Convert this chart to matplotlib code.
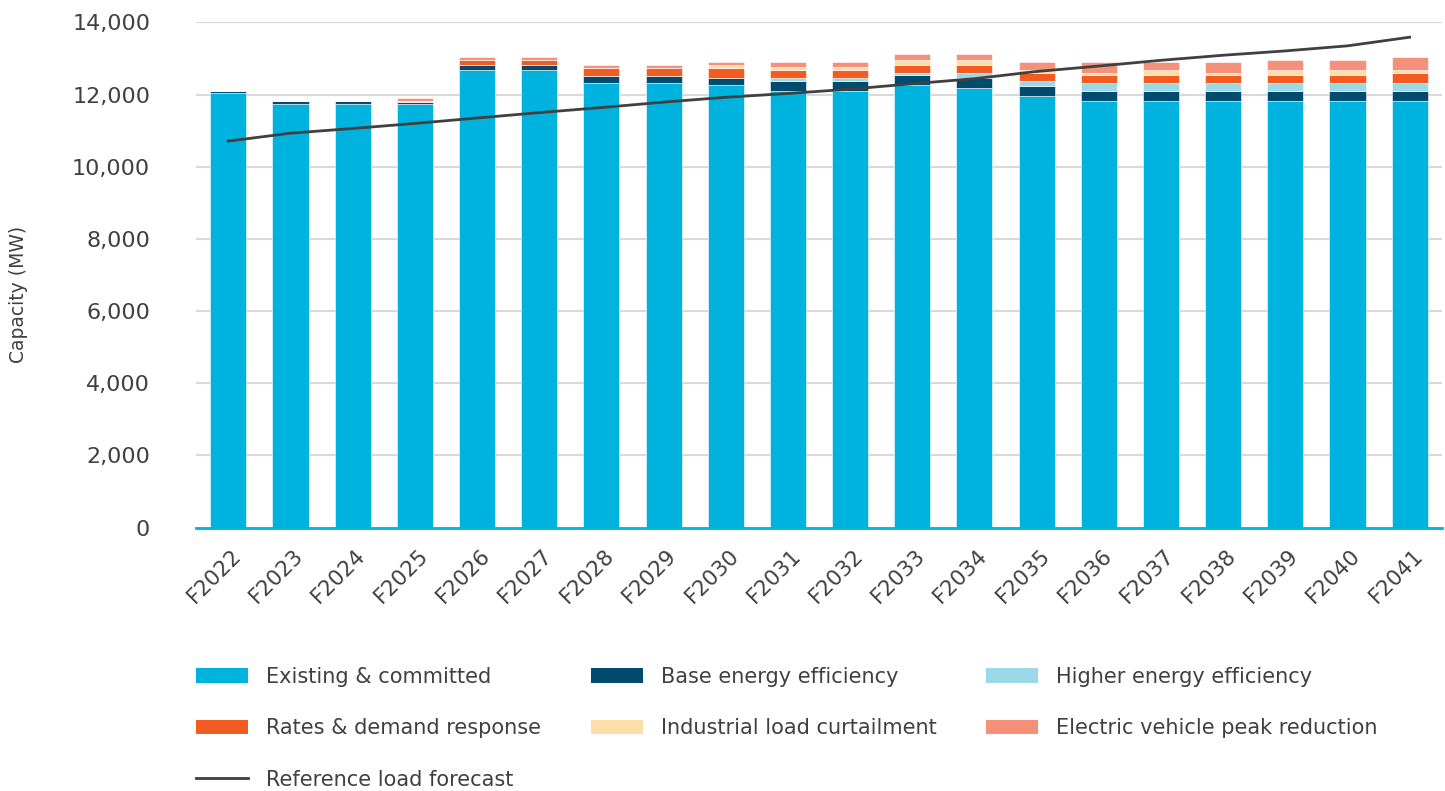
import matplotlib
matplotlib.use("Agg")
import matplotlib.pyplot as plt
from matplotlib.patches import Patch
from matplotlib.lines import Line2D
from matplotlib.transforms import ScaledTranslation
import numpy as np

years = ["F2022", "F2023", "F2024", "F2025", "F2026", "F2027", "F2028", "F2029",
         "F2030", "F2031", "F2032", "F2033", "F2034", "F2035", "F2036", "F2037",
         "F2038", "F2039", "F2040", "F2041"]

existing = [12050, 11750, 11750, 11750, 12680, 12680, 12320, 12320, 12260, 12100,
            12100, 12260, 12185, 11970, 11825, 11825, 11825, 11825, 11825, 11825]
base_ee = [60, 75, 75, 55, 140, 140, 205, 205, 200, 280,
           285, 275, 275, 275, 275, 275, 275, 275, 275, 275]
higher_ee = [0, 0, 0, 25, 0, 0, 0, 0, 0, 85,
             80, 75, 145, 140, 220, 220, 220, 220, 220, 220]
rates_dr = [0, 0, 0, 0, 140, 140, 215, 220, 275, 205,
            215, 215, 215, 220, 210, 210, 210, 210, 210, 285]
industrial = [0, 0, 0, 0, 0, 0, 0, 0, 75, 85,
              75, 145, 145, 65, 75, 145, 75, 145, 145, 75]
ev_peak = [0, 0, 0, 65, 80, 80, 85, 85, 90, 140,
           140, 150, 150, 230, 285, 215, 285, 285, 285, 365]
load_forecast = [10710, 10930, 11060, 11200, 11350, 11500, 11640, 11790, 11925, 12030,
                 12150, 12300, 12440, 12640, 12790, 12950, 13090, 13210, 13350, 13590]

series = [
    ("Existing & committed", existing, "#00B3DE"),
    ("Base energy efficiency", base_ee, "#004B6E"),
    ("Higher energy efficiency", higher_ee, "#9AD9E8"),
    ("Rates & demand response", rates_dr, "#F25C22"),
    ("Industrial load curtailment", industrial, "#FDDDA8"),
    ("Electric vehicle peak reduction", ev_peak, "#F5907A"),
]

TEXT = "#404040"
plt.rcParams["font.family"] = ["DejaVu Sans"]

fig = plt.figure(figsize=(14.45, 7.91), dpi=100)
ax = fig.add_axes([196 / 1445, 1 - 527.6 / 791, (1442 - 196) / 1445, (527.6 - 22.4) / 791])

x = np.arange(len(years))
bottom = np.zeros(len(years))
for name, vals, color in series:
    vals = np.array(vals, dtype=float)
    ax.bar(x, vals, width=0.58, bottom=bottom, color=color, edgecolor="white",
           linewidth=0.4, zorder=2)
    bottom += vals

ax.plot(x, load_forecast, color="#404040", linewidth=2.0, zorder=3)

ax.set_xlim(-0.52, len(years) - 0.48)
ax.set_ylim(0, 14000)
ax.set_yticks(np.arange(0, 14001, 2000))
ax.set_yticklabels([f"{v:,}" for v in range(0, 14001, 2000)], fontsize=16, color=TEXT)
ax.set_xticks(x)
ax.set_xticklabels(years, rotation=45, ha="right", va="center", rotation_mode="anchor",
                   fontsize=15.5, color=TEXT)
ax.tick_params(axis="both", length=0)
ax.tick_params(axis="y", pad=33)
ax.tick_params(axis="x", pad=18)
# nudge the slanted year labels to the right of their ticks
shift = ScaledTranslation(10 / 100, 0, fig.dpi_scale_trans)
for lab in ax.get_xticklabels():
    lab.set_transform(lab.get_transform() + shift)

ax.grid(axis="y", color="#D9D9D9", linewidth=1.5, zorder=0)
ax.set_axisbelow(True)
for side in ("top", "right", "left"):
    ax.spines[side].set_visible(False)
ax.spines["bottom"].set_color("#00B3DE")
ax.spines["bottom"].set_linewidth(2.0)
ax.spines["bottom"].set_zorder(4)

ax.set_ylabel("Capacity (MW)", fontsize=13.5, color=TEXT)
ax.yaxis.set_label_coords(-168 / 1246, (527.6 - 294) / 505.2)

# legend: column-major ordering gives the three-row layout
handles = {name: Patch(facecolor=color, edgecolor="none") for name, _, color in series}
handles["Reference load forecast"] = Line2D([], [], color="#404040", linewidth=2.0)
order = ["Existing & committed", "Rates & demand response", "Reference load forecast",
         "Base energy efficiency", "Industrial load curtailment",
         "Higher energy efficiency", "Electric vehicle peak reduction"]
fig.legend([handles[n] for n in order], order, loc="upper left",
           bbox_to_anchor=(196 / 1445, 1 - 667 / 791), ncol=3, frameon=False,
           fontsize=15, labelcolor=TEXT, handlelength=2.5, handleheight=0.7,
           handletextpad=0.85, columnspacing=2.4, labelspacing=1.5,
           borderpad=0, borderaxespad=0)

fig.savefig("out.png", dpi=100)
